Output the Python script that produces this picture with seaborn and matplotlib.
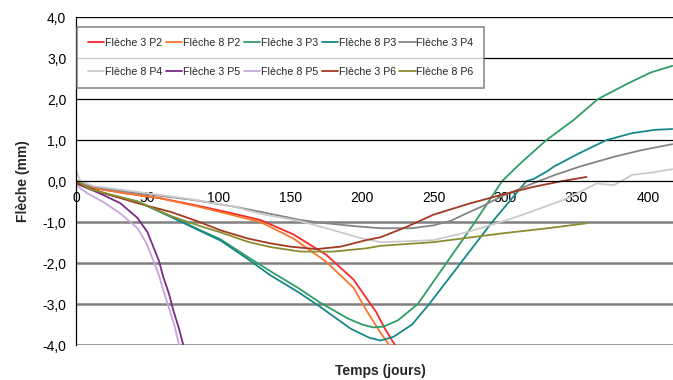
import matplotlib

matplotlib.use("Agg")
import matplotlib.pyplot as plt
import numpy as np
import pandas as pd
import seaborn as sns

# ── Données (jours, flèche en mm) ────────────────────────────────────────────
f3p2_t = [0, 12, 35, 59, 85, 106, 129, 152, 175, 194, 203, 210, 216, 223]
f3p2_v = [-0.05, -0.17, -0.3, -0.42, -0.6, -0.76, -0.95, -1.3, -1.8, -2.4, -2.85, -3.2, -3.6, -4.0]

f8p2_t = [0, 12, 35, 59, 85, 106, 129, 152, 175, 194, 203, 212, 219]
f8p2_v = [-0.05, -0.17, -0.3, -0.42, -0.62, -0.8, -1.0, -1.4, -1.97, -2.6, -3.15, -3.65, -4.0]

f3p3_t = [0, 10, 25, 43, 66, 87, 101, 120, 136, 155, 170, 190, 200, 208, 215, 225,
          232, 239, 259, 279, 298, 311, 329, 348, 365, 387, 402, 417]
f3p3_v = [-0.05, -0.2, -0.35, -0.5, -0.85, -1.2, -1.42, -1.85, -2.2, -2.6, -2.95, -3.35,
          -3.5, -3.57, -3.55, -3.4, -3.2, -3.0, -2.0, -1.0, 0.0, 0.44, 1.0, 1.49, 2.0,
          2.4, 2.65, 2.81]

f8p3_t = [0, 10, 25, 43, 66, 87, 101, 120, 136, 155, 170, 192, 205, 213, 222, 235,
          247, 269, 291, 315, 320, 330, 334, 352, 371, 389, 405, 417]
f8p3_v = [-0.05, -0.2, -0.35, -0.5, -0.87, -1.22, -1.45, -1.9, -2.3, -2.7, -3.05, -3.6,
          -3.82, -3.89, -3.8, -3.5, -3.0, -2.0, -1.0, 0.0, 0.05, 0.25, 0.35, 0.68,
          1.0, 1.17, 1.25, 1.27]

f3p4_t = [0, 12, 40, 82, 110, 129, 157, 175, 195, 213, 235, 250, 262, 273, 285, 297,
          320, 335, 352, 376, 395, 417]
f3p4_v = [0.0, -0.14, -0.28, -0.46, -0.62, -0.75, -0.95, -1.03, -1.1, -1.15, -1.15,
          -1.08, -0.97, -0.79, -0.6, -0.38, -0.05, 0.15, 0.35, 0.59, 0.75, 0.9]

f8p4_t = [0, 3, 12, 40, 82, 110, 129, 157, 175, 185, 200, 213, 230, 250, 273, 297,
          310, 341, 364, 376, 389, 405, 417]
f8p4_v = [0.27, 0.0, -0.12, -0.25, -0.45, -0.62, -0.8, -0.98, -1.15, -1.25, -1.4,
          -1.49, -1.47, -1.44, -1.25, -1.0, -0.85, -0.46, -0.06, -0.1, 0.15, 0.22, 0.29]

f3p5_t = [0, 10, 19, 31, 43, 50, 54, 58, 61, 65, 68, 72, 75]
f3p5_v = [-0.05, -0.2, -0.34, -0.54, -0.9, -1.25, -1.6, -1.95, -2.34, -2.75, -3.15, -3.6, -4.0]

f8p5_t = [0, 8, 19, 31, 43, 49, 54, 58, 61, 65, 69, 72]
f8p5_v = [-0.1, -0.3, -0.51, -0.79, -1.15, -1.5, -1.93, -2.3, -2.66, -3.1, -3.55, -4.0]

f3p6_t = [0, 20, 43, 66, 85, 101, 120, 136, 150, 168, 185, 203, 213, 231, 250, 275,
          297, 320, 340, 357]
f3p6_v = [-0.05, -0.3, -0.54, -0.75, -0.98, -1.2, -1.4, -1.52, -1.6, -1.66, -1.6,
          -1.44, -1.37, -1.12, -0.82, -0.55, -0.34, -0.14, 0.0, 0.1]

f8p6_t = [0, 10, 43, 66, 87, 101, 120, 136, 157, 180, 203, 213, 250, 297, 330, 357]
f8p6_v = [0.02, -0.2, -0.5, -0.85, -1.1, -1.25, -1.48, -1.61, -1.72, -1.72, -1.64,
          -1.58, -1.49, -1.28, -1.15, -1.03]

labels = ["Flèche 3 P2", "Flèche 8 P2", "Flèche 3 P3", "Flèche 8 P3", "Flèche 3 P4",
          "Flèche 8 P4", "Flèche 3 P5", "Flèche 8 P5", "Flèche 3 P6", "Flèche 8 P6"]
series = [(f3p2_t, f3p2_v), (f8p2_t, f8p2_v), (f3p3_t, f3p3_v), (f8p3_t, f8p3_v),
          (f3p4_t, f3p4_v), (f8p4_t, f8p4_v), (f3p5_t, f3p5_v), (f8p5_t, f8p5_v),
          (f3p6_t, f3p6_v), (f8p6_t, f8p6_v)]

colors = ["#f42a2a", "#f7772a", "#2e9e66", "#17888a", "#858585",
          "#cbcbcb", "#7a2a88", "#c8a6db", "#a23a22", "#8c8c30"]

df = pd.concat(
    [pd.DataFrame({"t": t, "v": v, "serie": lab}) for lab, (t, v) in zip(labels, series)],
    ignore_index=True,
)

# ── Figure ────────────────────────────────────────────────────────────────────
sns.set_style("white")
plt.rcParams["font.family"] = ["Liberation Sans", "DejaVu Sans"]

fig = plt.figure(figsize=(6.73, 3.80), dpi=100)
ax = fig.add_axes([0.113, 0.092, 0.887, 0.863])

# lignes de grille (noires au-dessus de 0, grises en dessous)
for yv in [1, 2, 3, 4]:
    ax.axhline(yv, color="black", lw=0.9, zorder=0)
for yv in [-1, -2, -3, -4]:
    ax.axhline(yv, color="#808080", lw=1.8, zorder=0)

sns.lineplot(data=df, x="t", y="v", hue="serie", hue_order=labels,
             palette=colors, sort=False, estimator=None, lw=1.3, ax=ax)

ax.set_xlim(0, 417.5)
ax.set_ylim(-4, 4)
ax.set_xticks(np.arange(0, 401, 50))
ax.set_yticks(np.arange(-4, 4.1, 1))
ax.set_yticklabels([f"{v:.1f}".replace(".", ",") for v in np.arange(-4, 4.1, 1)])

ax.spines["bottom"].set_position(("data", 0))
ax.spines["top"].set_visible(False)
ax.spines["right"].set_visible(False)
ax.spines["left"].set_color("black")
ax.spines["bottom"].set_color("black")
ax.spines["left"].set_linewidth(0.9)
ax.spines["bottom"].set_linewidth(0.9)
ax.tick_params(axis="x", direction="in", length=4, width=0.9, pad=7,
               labelsize=10, colors="black")
ax.tick_params(axis="y", direction="out", length=5, width=0.9, pad=2,
               labelsize=10, colors="black")
ax.xaxis.get_major_ticks()[0].tick1line.set_visible(False)

ax.set_xlabel("Temps (jours)", fontsize=10, fontweight="bold")
ax.set_ylabel("Flèche (mm)", fontsize=10, fontweight="bold")
ax.xaxis.set_label_coords(0.51, -0.058)
ax.yaxis.set_label_coords(-0.077, 0.5)

# légende remplie ligne par ligne (2 lignes x 5 colonnes)
handles, labs = ax.get_legend_handles_labels()
order = [0, 5, 1, 6, 2, 7, 3, 8, 4, 9]
leg = ax.legend([handles[i] for i in order], [labs[i] for i in order], ncol=5,
                loc="upper left", bbox_to_anchor=(0.002, 0.97), borderaxespad=0,
                fontsize=7.7, frameon=True, fancybox=False, edgecolor="#707070",
                handlelength=1.5, handletextpad=0.08, columnspacing=0.35,
                labelspacing=1.8, borderpad=1.0)
leg.get_frame().set_linewidth(1.2)
for line in leg.get_lines():
    line.set_linewidth(1.3)

fig.savefig("out.png", dpi=100)
